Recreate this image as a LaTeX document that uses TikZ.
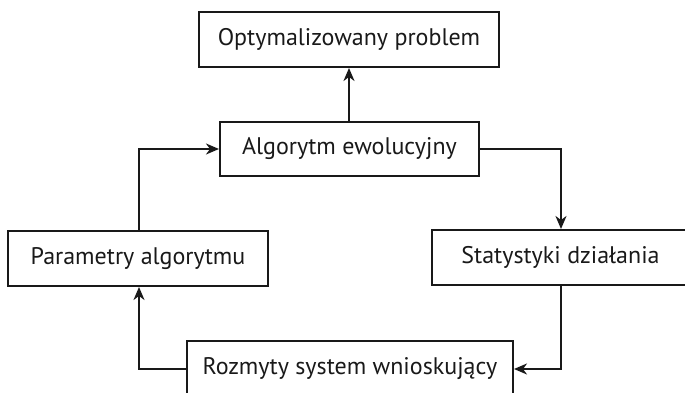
\documentclass[tikz,border=0pt]{standalone}
\usepackage{fontspec}
\setmainfont{PT Sans}
\usetikzlibrary{arrows.meta}
\begin{document}
\begin{tikzpicture}[x=1pt,y=1pt,
  box/.style={draw=black!90, line width=2pt, inner sep=0pt, font=\fontsize{24}{28}\selectfont, text=black!90},
  conn/.style={line width=2pt, draw=black!90, -{Stealth[length=13pt,width=11pt,inset=4pt]}}]
\useasboundingbox (0,0) rectangle (685,392);
\clip (0,0) rectangle (685,392);
\node[box, minimum width=300pt, minimum height=55pt] (top) at (349,352.5) {Optymalizowany problem};
\node[box, minimum width=259pt, minimum height=54pt] (algo) at (349.5,243) {Algorytm ewolucyjny};
\node[box, minimum width=260pt, minimum height=55pt] (param) at (138,133.5) {Parametry algorytmu};
\node[box, minimum width=257pt, minimum height=55pt] (stat) at (560.5,134.5) {Statystyki działania};
\node[box, minimum width=326pt, minimum height=56pt] (rozm) at (350,23) {Rozmyty system wnioskujący};
\draw[conn] (algo.north -| top.south) -- (top.south);
\draw[conn] (param.north -| 139,0) |- (algo.west);
\draw[conn] (algo.east) -| (561,0 |- stat.north);
\draw[conn] (561,0 |- stat.south) |- (rozm.east);
\draw[conn] (rozm.west) -| (139,0 |- param.south);
\end{tikzpicture}
\end{document}
